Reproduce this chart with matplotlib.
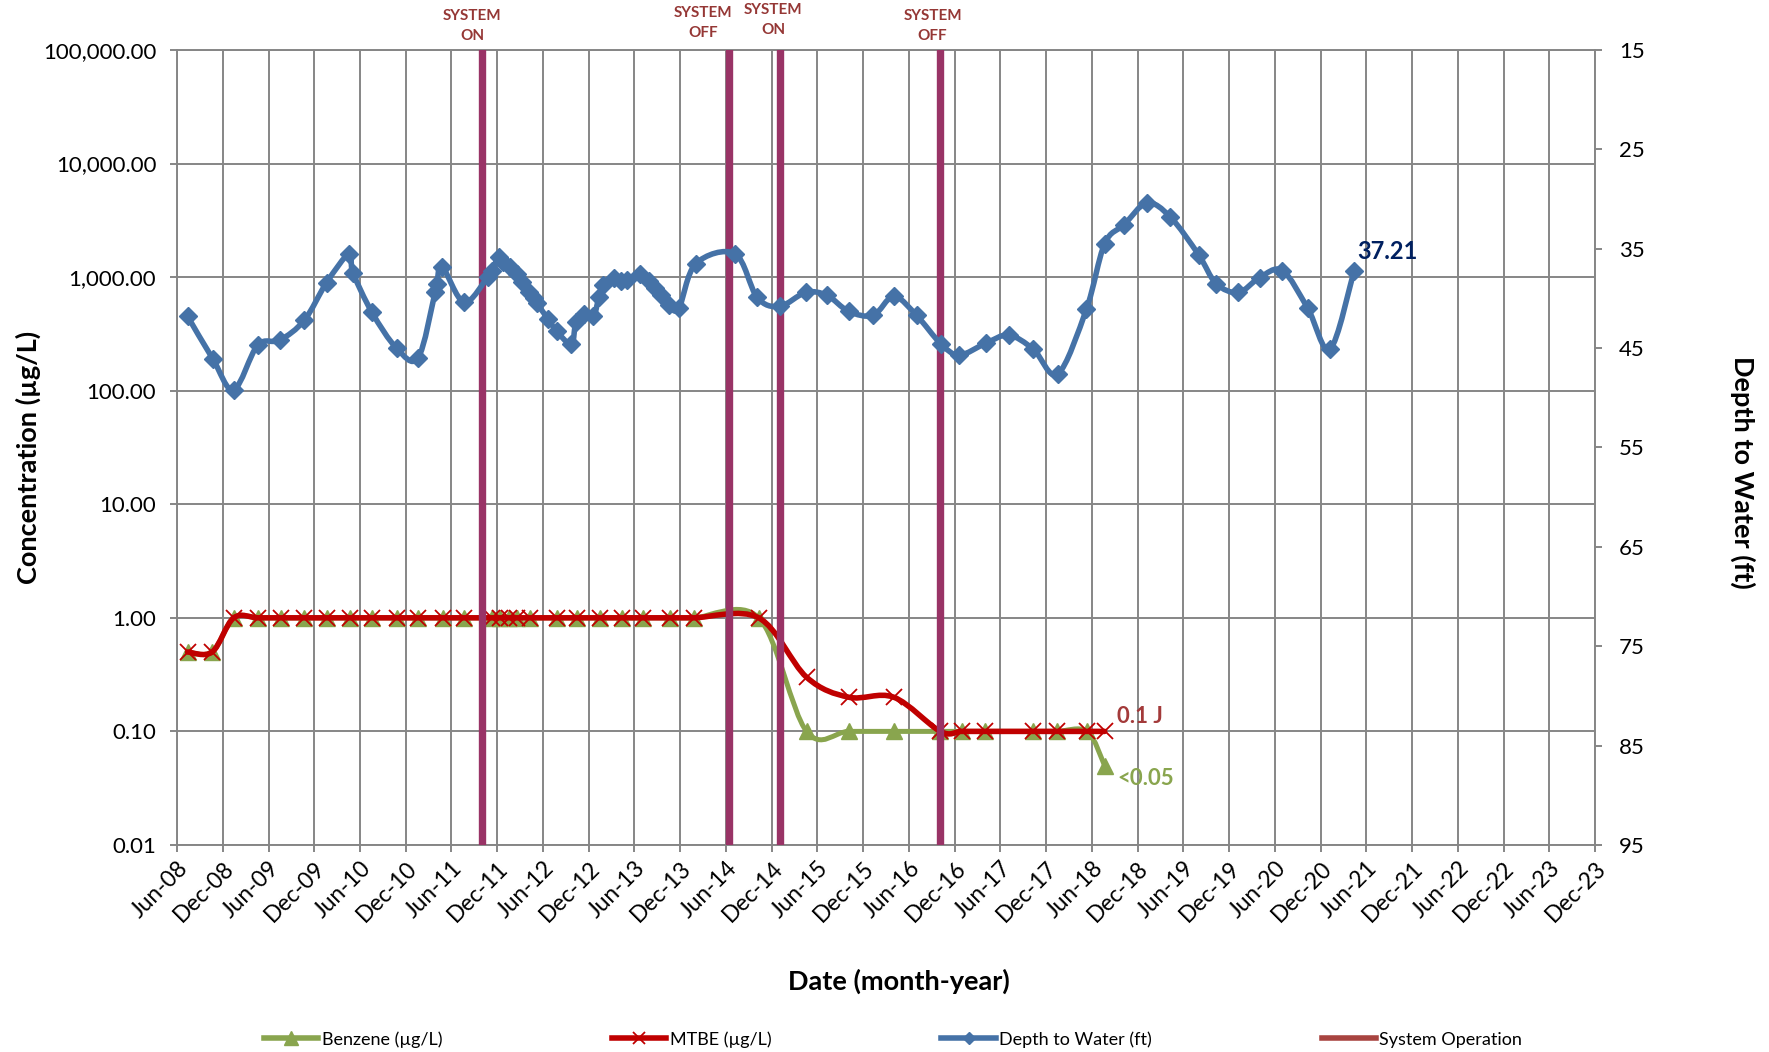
import numpy as np
import matplotlib
matplotlib.use("Agg")
import matplotlib.pyplot as plt
import matplotlib.dates as mdates
from matplotlib.path import Path
from matplotlib.patches import PathPatch
from matplotlib.lines import Line2D
from matplotlib.ticker import FixedLocator, FuncFormatter

plt.rcParams['font.family'] = ['Lato', 'DejaVu Sans']

# ---- data -------------------------------------------------------------
sample_dates = ['2008-07-13', '2008-10-19', '2009-01-13', '2009-04-19', '2009-07-19',
                '2009-10-22', '2010-01-19', '2010-04-22', '2010-07-19', '2010-10-25',
                '2011-01-19', '2011-04-28', '2011-07-22', '2011-11-10', '2011-12-13',
                '2012-01-19', '2012-02-19', '2012-04-10', '2012-07-28', '2012-10-16',
                '2013-01-16', '2013-04-13', '2013-07-07', '2013-10-22', '2014-01-25',
                '2014-10-10', '2015-04-19', '2015-10-04', '2016-04-01', '2016-10-04',
                '2016-12-28', '2017-04-01', '2017-10-10', '2018-01-13', '2018-05-13',
                '2018-07-22']
benzene = [0.5, 0.5] + [1.0] * 24 + [0.1] * 9 + [0.05]
mtbe = [0.5, 0.5] + [1.0] * 24 + [0.3, 0.2, 0.2, 0.1] + [0.1] * 6

gw_dates = ['2008-07-13', '2008-10-22', '2009-01-13', '2009-04-19', '2009-07-16',
            '2009-10-22', '2010-01-19', '2010-04-19', '2010-05-04', '2010-07-19',
            '2010-10-25', '2011-01-19', '2011-03-28', '2011-04-04', '2011-04-25',
            '2011-07-22', '2011-10-25', '2011-11-10', '2011-12-07', '2011-12-25',
            '2012-01-22', '2012-02-19', '2012-03-10', '2012-04-04', '2012-04-25',
            '2012-05-07', '2012-06-22', '2012-07-25', '2012-09-22', '2012-10-10',
            '2012-11-10', '2012-12-19', '2013-01-10', '2013-01-28', '2013-03-10',
            '2013-04-10', '2013-05-01', '2013-06-25', '2013-07-28', '2013-08-22',
            '2013-09-13', '2013-10-16', '2013-11-25', '2014-02-01', '2014-07-07',
            '2014-10-04', '2015-01-01', '2015-04-16', '2015-07-10', '2015-10-04',
            '2016-01-10', '2016-04-01', '2016-07-01', '2016-10-07', '2016-12-19',
            '2017-04-04', '2017-07-04', '2017-10-10', '2018-01-16', '2018-05-10',
            '2018-07-22', '2018-10-07', '2019-01-07', '2019-04-10', '2019-08-01',
            '2019-10-10', '2020-01-07', '2020-04-01', '2020-07-01', '2020-10-10',
            '2021-01-07', '2021-04-13']
depth = [41.8, 46.1, 49.2, 44.7, 44.2, 42.2, 38.4, 35.5, 37.4, 41.4,
         45.0, 46.0, 39.4, 38.6, 36.8, 40.4, 37.8, 37.2, 35.8, 36.3,
         36.8, 37.5, 38.3, 39.4, 40.0, 40.5, 42.1, 43.3, 44.6, 42.4,
         41.6, 41.8, 39.9, 38.7, 37.9, 38.2, 38.1, 37.5, 38.2, 39.0,
         39.7, 40.7, 41.0, 36.5, 35.5, 39.9, 40.8, 39.4, 39.7, 41.3,
         41.7, 39.8, 41.7, 44.6, 45.7, 44.5, 43.7, 45.1, 47.6, 41.1,
         34.5, 32.6, 30.4, 31.8, 35.6, 38.5, 39.4, 37.9, 37.2, 41.0,
         45.1, 37.21]

system_dates = ['2011-10-01', '2014-06-13', '2015-01-02', '2016-10-04']
system_labels = ['SYSTEM\nON', 'SYSTEM\nOFF', 'SYSTEM\nON', 'SYSTEM\nOFF']

conc_ticks = [0.01, 0.1, 1, 10, 100, 1000, 10000, 100000]
depth_ticks = [15, 25, 35, 45, 55, 65, 75, 85, 95]

# ---- styles -----------------------------------------------------------
GREEN = '#89A54E'
RED = '#C00000'
BLUE = '#4572A7'
SYS = '#993366'
GRID = '#868686'
LABEL_RED = '#953735'
sys_offsets = [(-7, 17.5), (-18.5, 19.5), (-4.5, 21.5), (-5.5, 17.5)]


def smooth(x, y, k=1 / 6.):
    # Bezier path through the points, Excel-like smoothing
    p = np.column_stack([x, y])
    n = len(p)
    verts = [p[0]]
    codes = [Path.MOVETO]
    for i in range(n - 1):
        p0 = p[max(i - 1, 0)]
        p1 = p[i]
        p2 = p[i + 1]
        p3 = p[min(i + 2, n - 1)]
        verts += [p1 + (p2 - p0) * k, p2 - (p3 - p1) * k, p2]
        codes += [Path.CURVE4] * 3
    return np.array(verts), codes


def smooth_log(x, y):
    v, c = smooth(x, np.log10(y))
    v[:, 1] = 10 ** v[:, 1]
    return Path(v, c)


fig = plt.figure(figsize=(17.69, 10.52), dpi=100)
ax = fig.add_axes([0.1001, 0.1968, 0.8016, 0.7557])

sx = mdates.datestr2num(sample_dates)
gx = mdates.datestr2num(gw_dates)
sysx = mdates.datestr2num(system_dates)

ax.set_yscale('log')
ax.set_ylim(0.01, 100000)
ax.set_xlim(mdates.datestr2num('2008-06-01'), mdates.datestr2num('2023-12-01'))

# concentrations
ax.add_patch(PathPatch(smooth_log(sx, benzene), fill=False, edgecolor=GREEN,
                       lw=3.6, capstyle='round', joinstyle='round', zorder=3))
ax.plot(sx, benzene, ls='none', marker='^', ms=12, color=GREEN, zorder=4)
ax.add_patch(PathPatch(smooth_log(sx, mtbe), fill=False, edgecolor=RED,
                       lw=4, capstyle='round', joinstyle='round', zorder=5))
ax.plot(sx, mtbe, ls='none', marker='x', ms=11, mew=1.3, color=RED, zorder=6)

# system operation
for d, lab, (dx, dy) in zip(sysx, system_labels, sys_offsets):
    ax.axvline(d, color=SYS, lw=5.3, zorder=7)
    ax.annotate(lab, xy=(d, 1), xycoords=('data', 'axes fraction'),
                xytext=(dx, dy), textcoords='offset points', ha='center',
                va='center', fontsize=11, fontweight='bold', color=LABEL_RED,
                linespacing=1.55, annotation_clip=False)

ax.annotate('0.1 J', xy=(sx[-1], mtbe[-1]), xytext=(9, 11), textcoords='offset points',
            ha='left', va='center', fontsize=16, fontweight='bold', color='#A33A3A')
ax.annotate('<0.05', xy=(sx[-1], benzene[-1]), xytext=(9, -9), textcoords='offset points',
            ha='left', va='center', fontsize=16, fontweight='bold', color=GREEN)

ax.yaxis.set_major_locator(FixedLocator(conc_ticks))
ax.yaxis.set_minor_locator(FixedLocator([]))
ax.yaxis.set_major_formatter(FuncFormatter(lambda v, p: '{:,.2f}'.format(v)))
ax.xaxis.set_major_locator(mdates.MonthLocator(bymonth=(6, 12)))
ax.xaxis.set_major_formatter(mdates.DateFormatter('%b-%y'))
ax.grid(True, color=GRID, lw=1.4)
ax.set_axisbelow(True)
for s in ax.spines.values():
    s.set_color(GRID)
    s.set_linewidth(1.4)
ax.tick_params(axis='both', colors=GRID, labelcolor='black', width=1.4, length=5)
ax.tick_params(axis='y', pad=10, labelsize=16)
ax.tick_params(axis='x', pad=4, labelsize=16.5)
for t in ax.get_xticklabels():
    t.set_rotation(45)
    t.set_ha('right')
    t.set_rotation_mode('anchor')

ax.set_xlabel('Date (month-year)', fontsize=19.5, fontweight='bold', va='center')
ax.xaxis.set_label_coords(0.509, -0.171)
ax.set_ylabel('Concentration (µg/L)', fontsize=19.5, fontweight='bold', va='center')
ax.yaxis.set_label_coords(-0.105, 0.487)

# depth to water
ax2 = ax.twinx()
ax2.set_ylim(95, 15)
ax2.add_patch(PathPatch(Path(*smooth(gx, depth)), fill=False, edgecolor=BLUE,
                        lw=4, capstyle='round', joinstyle='round', zorder=3))
ax2.plot(gx, depth, ls='none', marker='D', ms=9, color=BLUE, zorder=4)
ax2.annotate('37.21', xy=(gx[-1], depth[-1]), xytext=(2, 14), textcoords='offset points',
             ha='left', va='center', fontsize=17, fontweight='bold', color='#002060')
ax2.yaxis.set_major_locator(FixedLocator(depth_ticks))
ax2.tick_params(axis='y', colors=GRID, labelcolor='black', width=1.4, length=5,
                labelsize=16, pad=12)
for s in ax2.spines.values():
    s.set_visible(False)
ax2.set_ylabel('Depth to Water (ft)', fontsize=19.5, fontweight='bold',
               rotation=270, va='center')
ax2.yaxis.set_label_coords(1.104, 0.469)

handles = [
    Line2D([], [], color=GREEN, lw=4, marker='^', ms=10),
    Line2D([], [], color=RED, lw=4, marker='x', ms=9, mew=1.3),
    Line2D([], [], color=BLUE, lw=4, marker='D', ms=6),
    Line2D([], [], color='#A84440', lw=4),
]
labels = ['Benzene (µg/L)', 'MTBE (µg/L)', 'Depth to Water (ft)', 'System Operation']
fig.legend(handles, labels, loc='center', bbox_to_anchor=(0.505, 0.012), ncol=4,
           frameon=False, fontsize=13, handlelength=3.0, handletextpad=0.2,
           columnspacing=9.4)

fig.savefig('out.png', dpi=100)
